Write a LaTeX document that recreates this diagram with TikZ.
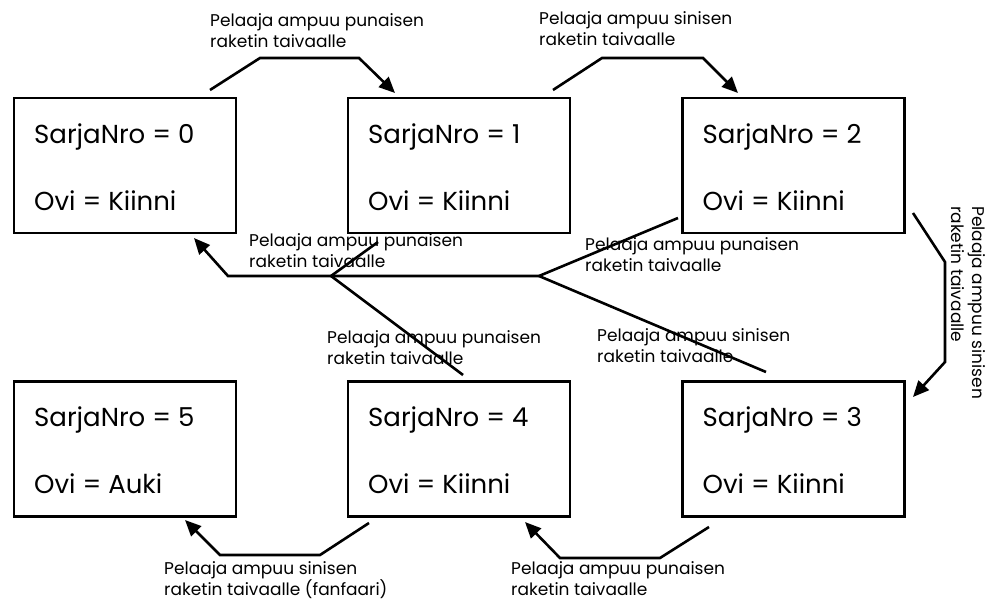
\documentclass[tikz,border=0pt]{standalone}
\usepackage{fontspec}
\setmainfont{Poppins}
\usetikzlibrary{arrows.meta}
\begin{document}
\begin{tikzpicture}[x=1pt,y=-1pt,
  state/.style={draw, line width=2.6pt, rectangle, outer sep=0pt, inner sep=0pt,
                minimum width=222pt, minimum height=135pt},
  big/.style={font=\fontsize{26}{30}\selectfont, anchor=base west, inner sep=0pt},
  lbl/.style={font=\fontsize{17}{21.5}\selectfont, align=left, anchor=north west, inner sep=0pt},
  link/.style={line width=2.6pt, line join=miter},
  arr/.style={link, -{Triangle[length=16pt,width=14pt]}},
]
\useasboundingbox (0,0) rectangle (989,602);

% states
\node[state] (b0) at (125,165.5) {};
\node[state] (b1) at (459,165.5) {};
\node[state] (b2) at (793.5,165.5) {};
\node[state] (b3) at (793.5,449) {};
\node[state] (b4) at (459,449) {};
\node[state] (b5) at (125,449) {};

% state contents
\foreach \b/\n/\d in {b0/0/Kiinni, b1/1/Kiinni, b2/2/Kiinni, b3/3/Kiinni, b4/4/Kiinni, b5/5/Auki}{
  \node[big] (\b n) at ([shift={(20,45)}]\b.north west) {SarjaNro = \n};
  \node[big] (\b d) at ([shift={(20,112)}]\b.north west) {Ovi = \d};
}

% transition labels
\node[lbl] (t01) at (210,13) {Pelaaja ampuu punaisen\\raketin taivaalle};
\node[lbl] (t12) at (539,11) {Pelaaja ampuu sinisen\\raketin taivaalle};
\node[lbl, rotate=-90] (t23) at (986,206) {Pelaaja ampuu sinisen\\raketin taivaalle};
\node[lbl] (t34) at (511,561) {Pelaaja ampuu punaisen\\raketin taivaalle};
\node[lbl] (t45) at (164,561) {Pelaaja ampuu sinisen\\raketin taivaalle (fanfaari)};
\node[lbl] (tm1) at (249,233) {Pelaaja ampuu punaisen\\raketin taivaalle};
\node[lbl] (tm2) at (585,237) {Pelaaja ampuu punaisen\\raketin taivaalle};
\node[lbl] (tm3) at (327,330) {Pelaaja ampuu punaisen\\raketin taivaalle};
\node[lbl] (tm4) at (597,328) {Pelaaja ampuu sinisen\\raketin taivaalle};

% connector ends
\coordinate (s01) at ([shift={(-26,-8)}]b0.north east);
\coordinate (e01) at ([shift={(47,-5)}]b1.north west);
\coordinate (s12) at ([shift={(-17,-8)}]b1.north east);
\coordinate (e12) at ([shift={(55.5,-5)}]b2.north west);
\coordinate (s23) at ([shift={(8.5,-20)}]b2.south east);
\coordinate (e23) at ([shift={(8.5,15.5)}]b3.north east);
\coordinate (s34) at ([shift={(26.5,10.5)}]b3.south west);
\coordinate (e34) at ([shift={(-45,5.5)}]b4.south east);
\coordinate (s45) at ([shift={(21,6.5)}]b4.south west);
\coordinate (e45) at ([shift={(-51,3.5)}]b5.south east);
\coordinate (s2) at ([shift={(-4.5,-15)}]b2.south west);
\coordinate (s3) at ([shift={(83.5,-9.5)}]b3.north west);
\coordinate (s4) at ([shift={(115,-6.5)}]b4.north west);
\coordinate (e0) at ([shift={(-42,5)}]b0.south east);
\coordinate (j1) at (539,276);
\coordinate (j2) at (331,276);
\coordinate (k0) at (228,276);
\coordinate (stub) at (378,242);

% forward transitions
\draw[arr] (s01) -- (260,58) -- (359,58) -- (e01);
\draw[arr] (s12) -- (602,58) -- (703,58) -- (e12);
\draw[arr] (s23) -- (945,262) -- (945,362) -- (e23);
\draw[arr] (s34) -- (660,558) -- (560,558) -- (e34);
\draw[arr] (s45) -- (320,555) -- (220,555) -- (e45);

% reset transitions back to state 0
\draw[link] (s2) -- (j1);
\draw[link] (s3) -- (j1);
\draw[link] (s4) -- (j2);
\draw[link] (j2) -- (stub);
\draw[arr] (j1) -- (j2) -- (k0) -- (e0);
\end{tikzpicture}
\end{document}
